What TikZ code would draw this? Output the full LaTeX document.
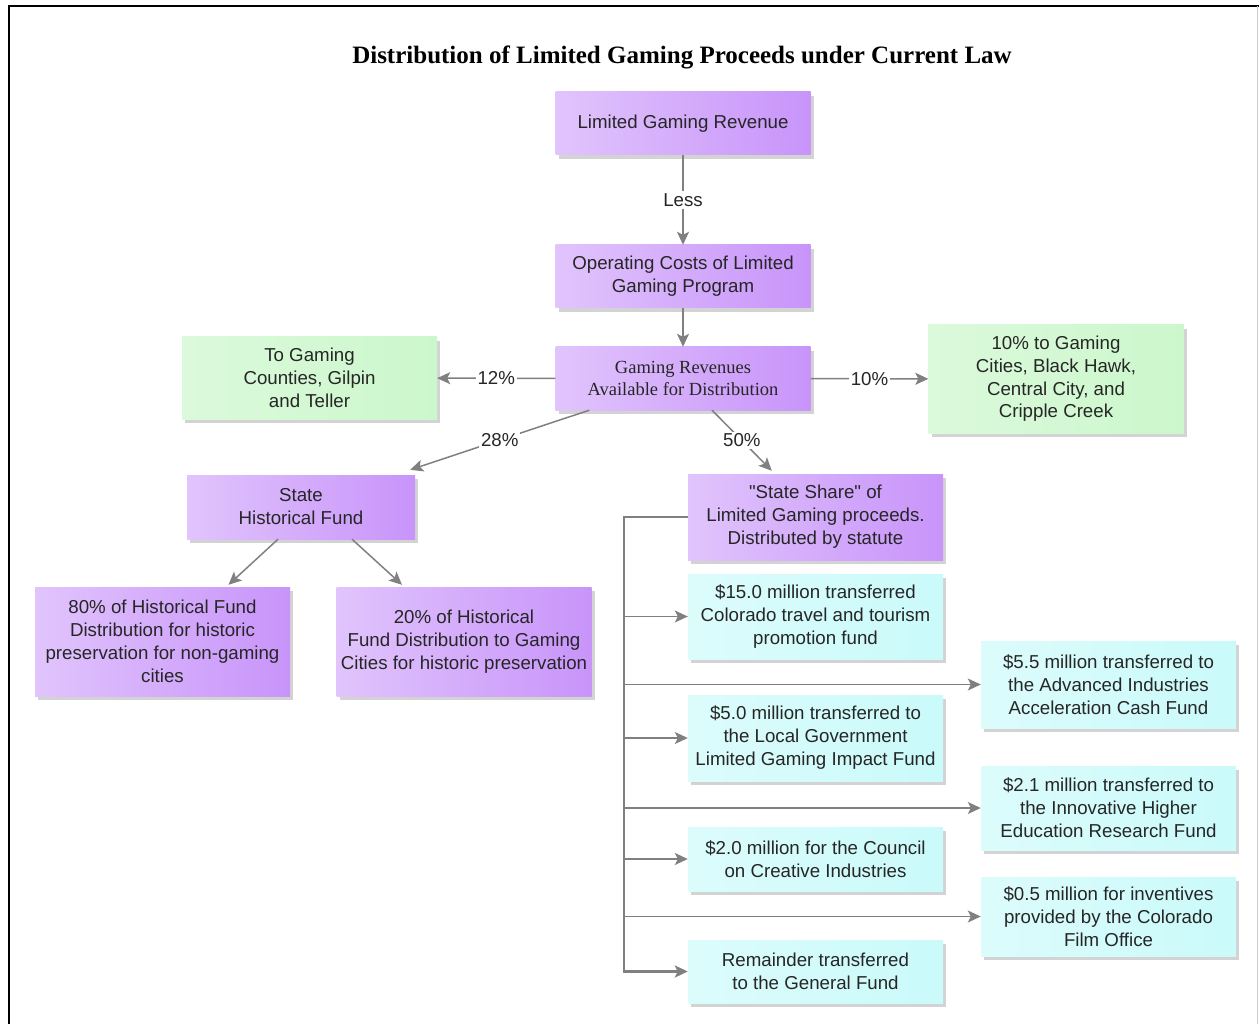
\documentclass[tikz,border=0pt]{standalone}
\usepackage{fontspec}
\setmainfont{Liberation Sans}[Ligatures=TeXOff]
\newfontfamily\timesfont{Liberation Serif}
\usetikzlibrary{arrows.meta,shadows,positioning}
\definecolor{gamingpurple}{RGB}{200,148,250}
\definecolor{gaminggreen}{RGB}{204,247,204}
\definecolor{gamingcyan}{RGB}{202,250,250}
\definecolor{linegray}{RGB}{128,128,128}

\begin{document}
\begin{tikzpicture}[x=1pt,y=-1pt,>={Stealth[length=13pt,width=12pt,inset=3pt]},
                    font=\fontsize{18.7}{23}\selectfont]
  \tikzstyle{box}=[rectangle,minimum width=255pt,align=center,inner xsep=2pt,text=black!85,
                   drop shadow={shadow xshift=3pt,shadow yshift=-4pt,opacity=0.35}]
  \tikzstyle{purplebox}=[box,shading=axis,left color=gamingpurple!55!white,
                         middle color=gamingpurple,right color=gamingpurple]
  \tikzstyle{greenbox}=[box,shading=axis,left color=gaminggreen!70!white,
                        middle color=gaminggreen,right color=gaminggreen]
  \tikzstyle{cyanbox}=[box,shading=axis,left color=gamingcyan!65!white,
                       middle color=gamingcyan,right color=gamingcyan]
  \tikzstyle{flow}=[->,draw=linegray,line width=1.5pt]
  \tikzstyle{bus}=[->,draw=linegray,line width=2.5pt]
  \tikzstyle{pct}=[fill=white,inner sep=2pt,text=black!85]

  \path[use as bounding box] (0,0) rectangle (1259,1024);
  \draw[black,line width=2.5pt] (9,1024) -- (9,6) -- (1259,6);
  \draw[black!20,line width=1pt] (1257,6) -- (1257,1024);

  \node[font=\timesfont\bfseries\fontsize{25}{29}\selectfont] (title) at (682,57)
       {Distribution of Limited Gaming Proceeds under Current Law};

  \node[purplebox,minimum height=63pt] (revenue) at (683,123.5) {Limited Gaming Revenue};
  \node[purplebox,minimum height=63pt] (costs) at (683,276.5) {Operating Costs of Limited\\Gaming Program};
  \node[purplebox,minimum height=63pt,font=\timesfont\fontsize{18.5}{22}\selectfont] (available) at (683,378.5)
       {Gaming Revenues\\Available for Distribution};
  \node[greenbox,minimum height=82pt] (counties) at (309.5,378) {To Gaming\\Counties, Gilpin\\and Teller};
  \node[greenbox,minimum height=108pt,font=\fontsize{18.7}{22.7}\selectfont] (cities) at (1056,379)
       {10\% to Gaming\\Cities, Black Hawk,\\Central City, and\\Cripple Creek};

  \node[purplebox,minimum width=228pt,minimum height=64pt] (historical) at (301,507) {State\\Historical Fund};
  \node[purplebox,minimum height=86pt] (stateshare) at (815.5,517)
       {"State Share" of\\Limited Gaming proceeds.\\Distributed by statute};

  \node[purplebox,minimum height=109pt] (noncities) at (162.5,641.5)
       {80\% of Historical Fund\\Distribution for historic\\preservation for non-gaming\\cities};
  \node[purplebox,minimum height=109pt] (gamingcities) at (464,641.5)
       {20\% of Historical\\Fund Distribution to Gaming\\Cities for historic preservation};

  \node[cyanbox,minimum height=85pt] (fifteen) at (815.5,616.5)
       {\$15.0 million transferred\\Colorado travel and tourism\\promotion fund};
  \node[cyanbox,minimum height=86pt] (localgov) at (815.5,738)
       {\$5.0 million transferred to\\the Local Government\\Limited Gaming Impact Fund};
  \node[cyanbox,minimum height=64pt] (council) at (815.5,859)
       {\$2.0 million for the Council\\on Creative Industries};
  \node[cyanbox,minimum height=63pt] (remainder) at (815.5,971.5)
       {Remainder transferred\\to the General Fund};
  \node[cyanbox,minimum height=87pt] (advanced) at (1108.5,684.5)
       {\$5.5 million transferred to\\the Advanced Industries\\Acceleration Cash Fund};
  \node[cyanbox,minimum height=84pt] (innovative) at (1108.5,808)
       {\$2.1 million transferred to\\the Innovative Higher\\Education Research Fund};
  \node[cyanbox,minimum height=79pt] (film) at (1108.5,916.5)
       {\$0.5 million for inventives\\provided by the Colorado\\Film Office};

  \draw[flow] (revenue) -- node[pct] {Less} (costs);
  \draw[flow] (costs) -- (available);
  \draw[flow] (available) -- node[pct] {12\%} (counties);
  \draw[flow] (available) -- node[pct] {10\%} (cities);
  \draw[flow] ([xshift=34pt]available.south west) -- node[pct] {28\%}
              ([xshift=-5pt,yshift=5pt]historical.north east);
  \draw[flow] ([xshift=29pt]available.south) -- node[pct] {50\%}
              ([xshift=84pt,yshift=3pt]stateshare.north west);
  \draw[flow] ([xshift=-23pt]historical.south) -- ([xshift=66pt,yshift=2pt]noncities.north);
  \draw[flow] ([xshift=51pt]historical.south) -- ([xshift=-62pt,yshift=2pt]gamingcities.north);

  % statutory transfers
  \draw[bus] (stateshare.west) -- ++(-64,0) coordinate (bustop) |- (remainder.west);
  \foreach \dest in {fifteen,advanced,localgov,innovative,council,film}
    \draw[flow] (bustop |- \dest.west) -- (\dest.west);

\end{tikzpicture}
\end{document}
